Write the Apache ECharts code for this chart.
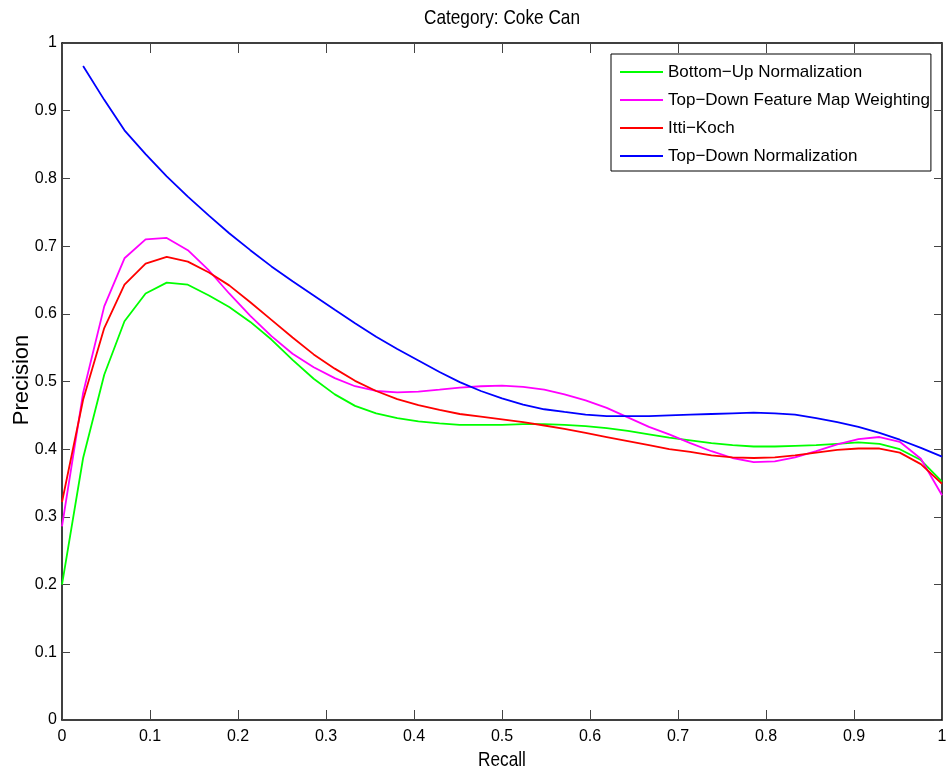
<!DOCTYPE html>
<html>
<head>
<meta charset="utf-8">
<script src="https://cdn.jsdelivr.net/npm/echarts@6/dist/echarts.min.js"></script>
<style>html,body{margin:0;padding:0;background:#fff;}#c{width:952px;height:776px;}</style>
</head>
<body>
<div id="c"></div>
<script>
const titleText = 'Category: Coke Can';
const xName = 'Recall';
const yName = 'Precision';
const seriesNames = ['Bottom\u2212Up Normalization', 'Top\u2212Down Feature Map Weighting', 'Itti\u2212Koch', 'Top\u2212Down Normalization'];
const seriesColors = ['#00ff00', '#ff00ff', '#ff0000', '#0000ff'];
const xTicks = [0, 0.1, 0.2, 0.3, 0.4, 0.5, 0.6, 0.7, 0.8, 0.9, 1];
const yTicks = [0, 0.1, 0.2, 0.3, 0.4, 0.5, 0.6, 0.7, 0.8, 0.9, 1];

const recall = [0, 0.024, 0.048, 0.071, 0.095, 0.119, 0.143, 0.167, 0.190, 0.214, 0.238, 0.262, 0.286, 0.310, 0.333, 0.357, 0.381, 0.405, 0.429, 0.452, 0.476, 0.500, 0.524, 0.548, 0.571, 0.595, 0.619, 0.643, 0.667, 0.690, 0.714, 0.738, 0.762, 0.786, 0.810, 0.833, 0.857, 0.881, 0.905, 0.929, 0.952, 0.976, 1.000];

const bottomUp = [0.200, 0.387, 0.510, 0.589, 0.630, 0.646, 0.643, 0.627, 0.610, 0.588, 0.562, 0.532, 0.504, 0.481, 0.464, 0.453, 0.446, 0.441, 0.438, 0.436, 0.436, 0.436, 0.437, 0.437, 0.436, 0.434, 0.431, 0.427, 0.422, 0.417, 0.413, 0.409, 0.406, 0.404, 0.404, 0.405, 0.406, 0.408, 0.410, 0.408, 0.400, 0.384, 0.352];

const topDownFMW = [0.286, 0.483, 0.611, 0.682, 0.710, 0.712, 0.694, 0.664, 0.630, 0.597, 0.567, 0.541, 0.521, 0.505, 0.493, 0.486, 0.484, 0.485, 0.488, 0.491, 0.493, 0.494, 0.492, 0.488, 0.481, 0.472, 0.461, 0.447, 0.433, 0.422, 0.409, 0.397, 0.387, 0.381, 0.382, 0.388, 0.397, 0.407, 0.415, 0.418, 0.411, 0.386, 0.332];

const ittiKoch = [0.322, 0.473, 0.579, 0.643, 0.674, 0.684, 0.677, 0.661, 0.642, 0.617, 0.591, 0.565, 0.540, 0.519, 0.501, 0.486, 0.474, 0.465, 0.458, 0.452, 0.448, 0.444, 0.440, 0.435, 0.430, 0.424, 0.418, 0.412, 0.406, 0.400, 0.396, 0.391, 0.388, 0.387, 0.388, 0.391, 0.395, 0.399, 0.401, 0.401, 0.395, 0.378, 0.349];

const topDownNorm = [null, 0.966, 0.916, 0.871, 0.836, 0.803, 0.773, 0.745, 0.719, 0.694, 0.670, 0.648, 0.627, 0.606, 0.586, 0.566, 0.548, 0.531, 0.514, 0.499, 0.486, 0.475, 0.466, 0.459, 0.455, 0.451, 0.449, 0.449, 0.449, 0.450, 0.451, 0.452, 0.453, 0.454, 0.453, 0.451, 0.446, 0.440, 0.433, 0.424, 0.414, 0.402, 0.389];

const allValues = [bottomUp, topDownFMW, ittiKoch, topDownNorm];

const FONT = "'Liberation Sans', Arial, Helvetica, sans-serif";

const chart = echarts.init(document.getElementById('c'), null, {renderer: 'canvas'});

function pairs(vals) {
  const out = [];
  for (let i = 0; i < recall.length; i++) {
    if (vals[i] !== null) out.push([recall[i], vals[i]]);
  }
  return out;
}

const gridL = 62, gridT = 43, gridR = 10, gridB = 56;

const baseX = {
  type: 'value', min: 0, max: 1, interval: 0.1,
  axisLine: {show: true, onZero: false, lineStyle: {color: '#000', width: 1.5}},
  axisTick: {show: true, inside: true, length: 10, lineStyle: {color: '#444', width: 1}},
  splitLine: {show: false}
};
const baseY = {
  type: 'value', min: 0, max: 1, interval: 0.1,
  axisLine: {show: true, onZero: false, lineStyle: {color: '#000', width: 1.5}},
  axisTick: {show: true, inside: true, length: 8, lineStyle: {color: '#444', width: 1}},
  splitLine: {show: false}
};

function fmt(v) {
  const r = Math.round(v * 10) / 10;
  return String(r);
}

const option = {
  backgroundColor: '#fff',
  animation: false,
  grid: {left: gridL, top: gridT, right: gridR, bottom: gridB, containLabel: false},
  xAxis: [
    Object.assign({}, baseX, {position: 'bottom',
      axisLabel: {show: true, margin: 9, color: '#000', fontFamily: FONT, fontSize: 16,
        formatter: function (v) { const s = fmt(v); return xTicks.indexOf(Number(s)) >= 0 ? s : ''; }}}),
    Object.assign({}, baseX, {position: 'top', axisLabel: {show: false}})
  ],
  yAxis: [
    Object.assign({}, baseY, {position: 'left',
      axisLabel: {show: true, margin: 5, color: '#000', fontFamily: FONT, fontSize: 16,
        formatter: function (v) { const s = fmt(v); return yTicks.indexOf(Number(s)) >= 0 ? s : ''; }}}),
    Object.assign({}, baseY, {position: 'right', axisLabel: {show: false}})
  ],
  legend: {
    show: true,
    orient: 'vertical',
    left: 611, top: 54,
    padding: [8, 1, 5, 9],
    itemGap: 8,
    itemWidth: 43,
    itemHeight: 20,
    backgroundColor: '#fff',
    borderColor: '#000',
    borderWidth: 1,
    borderRadius: 0,
    textStyle: {color: '#000', fontFamily: FONT, fontSize: 17, lineHeight: 20, padding: [0, 0, 0, 0]},
    data: seriesNames.map(function (n) { return {name: n, icon: 'path://M0,9.1L43,9.1L43,10.9L0,10.9Z'}; })
  },
  graphic: [
    {type: 'text', x: 502, y: 18, scaleX: 0.82, style: {text: titleText, fill: '#000', font: '21px ' + FONT, textAlign: 'center', textVerticalAlign: 'middle'}},
    {type: 'text', x: 502, y: 760, scaleX: 0.82, style: {text: xName, fill: '#000', font: '21px ' + FONT, textAlign: 'center', textVerticalAlign: 'middle'}},
    {type: 'text', x: 22, y: 380, rotation: Math.PI / 2, style: {text: yName, fill: '#000', font: '22px ' + FONT, textAlign: 'center', textVerticalAlign: 'middle'}}
  ],
  series: seriesNames.map(function (n, i) {
    return {
      name: n,
      type: 'line',
      xAxisIndex: 0, yAxisIndex: 0,
      data: pairs(allValues[i]),
      showSymbol: false,
      symbol: 'none',
      smooth: false,
      connectNulls: false,
      color: seriesColors[i],
      itemStyle: {color: seriesColors[i]},
      lineStyle: {color: seriesColors[i], width: 1.8},
      emphasis: {disabled: true}
    };
  })
};

chart.setOption(option);
</script>
</body>
</html>
